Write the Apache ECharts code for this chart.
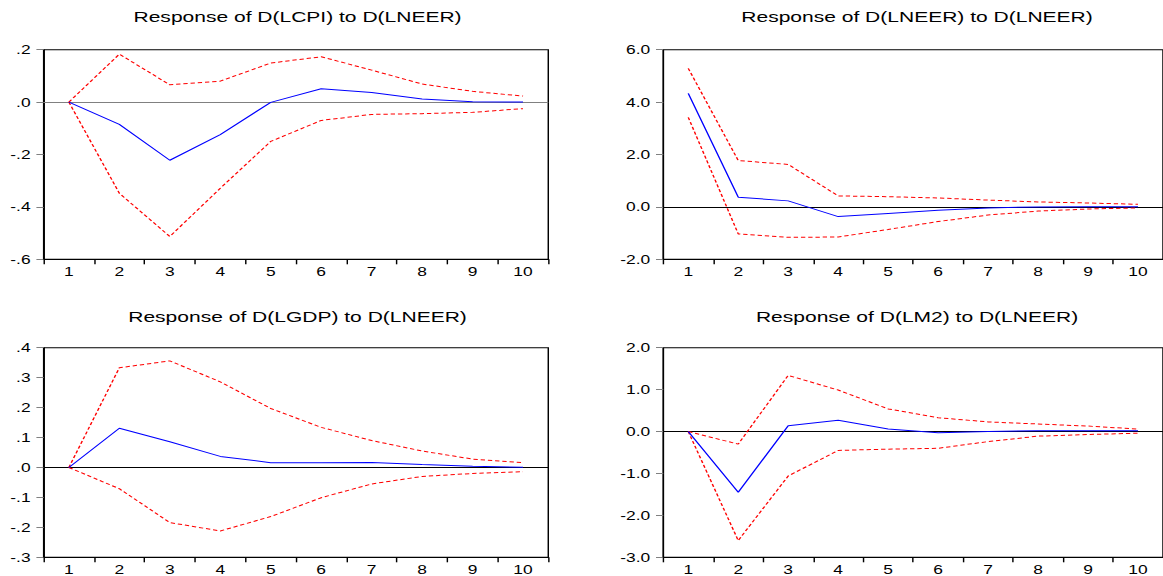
<!DOCTYPE html>
<html>
<head>
<meta charset="utf-8">
<script src="https://cdn.jsdelivr.net/npm/echarts@6/dist/echarts.min.js"></script>
<style>
  html, body { margin: 0; padding: 0; background: #fff; }
  #wrap { width: 1163px; height: 576px; overflow: hidden; background: #fff; }
  #chart { width: 802px; height: 576px; transform: scaleX(1.4501); transform-origin: 0 0; }
</style>
</head>
<body>
<div id="wrap"><div id="chart"></div></div>
<script>
// ---- data ----
const periods = ['1', '2', '3', '4', '5', '6', '7', '8', '9', '10'];

const titles = [
  'Response of D(LCPI) to D(LNEER)',
  'Response of D(LNEER) to D(LNEER)',
  'Response of D(LGDP) to D(LNEER)',
  'Response of D(LM2) to D(LNEER)'
];

const cpiResp  = [0, -0.085, -0.222, -0.124, -0.001, 0.051, 0.037, 0.012, 0.001, 0.000];
const cpiUpper = [0, 0.183, 0.066, 0.080, 0.149, 0.173, 0.122, 0.069, 0.041, 0.023];
const cpiLower = [0, -0.348, -0.513, -0.329, -0.150, -0.070, -0.047, -0.044, -0.039, -0.025];
const cpiTicks = [-0.6, -0.4, -0.2, 0, 0.2];

const neerResp  = [4.33, 0.37, 0.23, -0.37, -0.25, -0.13, -0.04, 0.00, 0.01, 0.01];
const neerUpper = [5.29, 1.77, 1.62, 0.42, 0.39, 0.34, 0.26, 0.19, 0.15, 0.10];
const neerLower = [3.42, -1.03, -1.16, -1.15, -0.86, -0.56, -0.31, -0.16, -0.08, -0.04];
const neerTicks = [-2, 0, 2, 4, 6];

const gdpResp  = [0, 0.131, 0.086, 0.037, 0.016, 0.016, 0.017, 0.010, 0.004, 0.001];
const gdpUpper = [0, 0.333, 0.356, 0.286, 0.197, 0.134, 0.090, 0.055, 0.028, 0.016];
const gdpLower = [0, -0.071, -0.184, -0.212, -0.164, -0.101, -0.055, -0.030, -0.020, -0.014];
const gdpTicks = [-0.3, -0.2, -0.1, 0, 0.1, 0.2, 0.3, 0.4];

const m2Resp  = [0, -1.45, 0.14, 0.27, 0.06, -0.03, 0.00, 0.02, 0.02, 0.02];
const m2Upper = [0, -0.30, 1.34, 0.99, 0.54, 0.33, 0.23, 0.18, 0.13, 0.06];
const m2Lower = [0, -2.60, -1.06, -0.45, -0.42, -0.40, -0.24, -0.11, -0.07, -0.04];
const m2Ticks = [-3, -2, -1, 0, 1, 2];

// ---- layout (in the un-stretched coordinate space) ----
const FONT = '"Liberation Sans", Arial, sans-serif';
const panels = [
  { resp: cpiResp,  up: cpiUpper,  lo: cpiLower,  ticks: cpiTicks,  leadingZero: false, zeroColor: '#808080',
    grid: { left: 30.1, right: 423.9, top: 49.7, height: 209.6 }, tx: 205.2, ty: 10 },
  { resp: neerResp, up: neerUpper, lo: neerLower, ticks: neerTicks, leadingZero: true,  zeroColor: '#000',
    grid: { left: 457.4, right: -3.4, top: 49.7, height: 209.6 }, tx: 632.4, ty: 10 },
  { resp: gdpResp,  up: gdpUpper,  lo: gdpLower,  ticks: gdpTicks,  leadingZero: false, zeroColor: '#000',
    grid: { left: 30.1, right: 423.9, top: 347.7, height: 209.6 }, tx: 205.2, ty: 309.5 },
  { resp: m2Resp,   up: m2Upper,   lo: m2Lower,   ticks: m2Ticks,   leadingZero: true,  zeroColor: '#000',
    grid: { left: 457.4, right: -3.4, top: 347.7, height: 209.6 }, tx: 632.4, ty: 309.5 }
];

function fmt(leadingZero) {
  return function (v) {
    let s = (Math.abs(v) < 1e-9 ? 0 : v).toFixed(1);
    if (!leadingZero) s = s.replace(/^(-?)0\./, '$1.');
    return s;
  };
}

const option = {
  animation: false,
  backgroundColor: '#fff',
  title: panels.map((p, i) => ({
    text: titles[i],
    left: p.tx,
    top: p.ty,
    padding: 0,
    textAlign: 'center',
    textStyle: { fontFamily: FONT, fontSize: 14.5, fontWeight: 'normal', color: '#000' }
  })),
  grid: panels.map(p => Object.assign({ show: true, borderColor: '#000', borderWidth: 1, backgroundColor: 'transparent' }, p.grid)),
  xAxis: panels.map((p, i) => ({
    type: 'category',
    gridIndex: i,
    position: 'bottom',
    data: periods,
    boundaryGap: true,
    axisLine: { show: true, onZero: false, lineStyle: { color: '#000', width: 1 } },
    axisTick: { show: true, inside: false, length: 5, lineStyle: { color: '#000' } },
    axisLabel: { color: '#000', fontFamily: FONT, fontSize: 12, margin: 6 },
    splitLine: { show: false }
  })),
  yAxis: panels.map((p, i) => ({
    type: 'value',
    gridIndex: i,
    position: 'left',
    min: p.ticks[0],
    max: p.ticks[p.ticks.length - 1],
    interval: p.ticks[1] - p.ticks[0],
    axisLine: { show: true, onZero: false, lineStyle: { color: '#000', width: 1 } },
    axisTick: { show: true, inside: false, length: 5, lineStyle: { color: '#808080' } },
    axisLabel: { color: '#000', fontFamily: FONT, fontSize: 12, margin: 9, padding: [0, 0, 6, 0], formatter: fmt(p.leadingZero) },
    splitLine: { show: false }
  })),
  series: []
};

panels.forEach((p, i) => {
  option.series.push({
    type: 'line', xAxisIndex: i, yAxisIndex: i, data: p.resp, z: 3,
    symbol: 'none', lineStyle: { color: '#0000ff', width: 1 }, itemStyle: { color: '#0000ff' },
    markLine: {
      silent: true, z: 1, symbol: ['none', 'none'], label: { show: false },
      lineStyle: { color: p.zeroColor, type: 'solid', width: 1 },
      data: [{ yAxis: 0 }]
    }
  });
  option.series.push({
    type: 'line', xAxisIndex: i, yAxisIndex: i, data: p.up, z: 2,
    symbol: 'none', lineStyle: { color: '#ff0000', width: 1, type: [3, 2] }, itemStyle: { color: '#ff0000' }
  });
  option.series.push({
    type: 'line', xAxisIndex: i, yAxisIndex: i, data: p.lo, z: 2,
    symbol: 'none', lineStyle: { color: '#ff0000', width: 1, type: [3, 2] }, itemStyle: { color: '#ff0000' }
  });
});

const chart = echarts.init(document.getElementById('chart'), null, { renderer: 'svg' });
chart.setOption(option);
</script>
</body>
</html>
